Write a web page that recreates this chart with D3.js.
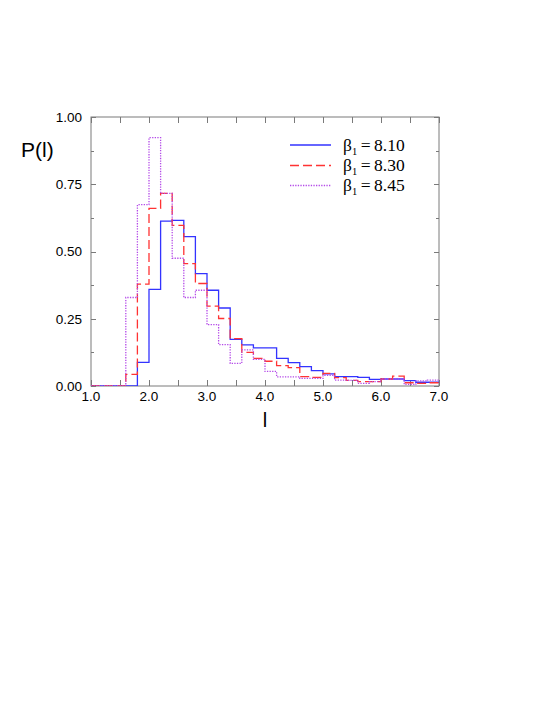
<!DOCTYPE html>
<html>
<head>
<meta charset="utf-8">
<script src="https://cdn.jsdelivr.net/npm/d3@7"></script>
<style>
  html, body { margin: 0; padding: 0; background: #ffffff; }
  svg { display: block; }
</style>
</head>
<body>
<div id="chart"></div>
<script>
// Bin edges start at 1.0, width 0.2, 30 bins up to 7.0
const binStart = 1.0;
const binWidth = 0.2;

const series810 = [0, 0, 0, 0, 0.088, 0.359, 0.613, 0.616, 0.555, 0.418,
  0.356, 0.290, 0.173, 0.153, 0.142, 0.142, 0.103, 0.087, 0.072, 0.057,
  0.045, 0.035, 0.035, 0.032, 0.025, 0.026, 0.026, 0.020, 0.014, 0.014];

const series830 = [0, 0, 0, 0.043, 0.379, 0.660, 0.716, 0.597, 0.455, 0.381,
  0.297, 0.251, 0.176, 0.125, 0.103, 0.092, 0.076, 0.068, 0.035, 0.032,
  0.047, 0.031, 0.021, 0.016, 0.016, 0.026, 0.037, 0.012, 0.010, 0.012];

const series845 = [0, 0, 0, 0.329, 0.674, 0.923, 0.716, 0.475, 0.329, 0.356,
  0.228, 0.154, 0.084, 0.134, 0.099, 0.054, 0.034, 0.034, 0.028, 0.028,
  0.040, 0.022, 0.021, 0.010, 0.016, 0.026, 0.026, 0.006, 0.019, 0.022];

const seriesLabels = ["8.10", "8.30", "8.45"];
const xTickValues = [1, 2, 3, 4, 5, 6, 7];
const xTickLabels = ["1.0", "2.0", "3.0", "4.0", "5.0", "6.0", "7.0"];
const yTickValues = [0, 0.25, 0.5, 0.75, 1.0];
const yTickLabels = ["0.00", "0.25", "0.50", "0.75", "1.00"];

const W = 545, H = 705;
const plot = { left: 91, right: 439, top: 117, bottom: 386 };

const svg = d3.select("#chart").append("svg")
  .attr("width", W).attr("height", H);

const x = d3.scaleLinear().domain([1, 7]).range([plot.left, plot.right]);
const y = d3.scaleLinear().domain([0, 1]).range([plot.bottom, plot.top]);

const axisColor = "#7a7a7a";

// frame
svg.append("rect")
  .attr("x", plot.left).attr("y", plot.top)
  .attr("width", plot.right - plot.left).attr("height", plot.bottom - plot.top)
  .attr("fill", "none").attr("stroke", axisColor).attr("stroke-width", 1);

// ticks
const xMajor = d3.range(1, 7.01, 0.5);
const yAll = d3.range(0, 1.001, 0.125);
const tickG = svg.append("g").attr("stroke", axisColor).attr("stroke-width", 1);
xMajor.forEach(v => {
  const px = Math.round(x(v)) + 0.5;
  const len = 6;
  tickG.append("line").attr("x1", px).attr("x2", px)
    .attr("y1", plot.bottom).attr("y2", plot.bottom - len);
  tickG.append("line").attr("x1", px).attr("x2", px)
    .attr("y1", plot.top).attr("y2", plot.top + len);
});
yAll.forEach((v, i) => {
  const py = Math.round(y(v)) + 0.5;
  const len = (i % 2 === 0) ? 5 : 3;
  tickG.append("line").attr("y1", py).attr("y2", py)
    .attr("x1", plot.left).attr("x2", plot.left + len);
  tickG.append("line").attr("y1", py).attr("y2", py)
    .attr("x1", plot.right).attr("x2", plot.right - len);
});

// tick labels
const labelFont = "'Liberation Sans', Arial, Helvetica, sans-serif";
svg.append("g").selectAll("text").data(xTickValues).join("text")
  .attr("x", d => x(d)).attr("y", 401)
  .attr("text-anchor", "middle")
  .attr("font-family", labelFont).attr("font-size", 13.5).attr("fill", "#000")
  .text((d, i) => xTickLabels[i]);

svg.append("g").selectAll("text").data(yTickValues).join("text")
  .attr("x", 82).attr("y", d => y(d))
  .attr("dy", "0.36em")
  .attr("text-anchor", "end")
  .attr("font-family", labelFont).attr("font-size", 13.5).attr("fill", "#000")
  .text((d, i) => yTickLabels[i]);

// axis titles
svg.append("text").attr("x", 21).attr("y", 157)
  .attr("font-family", labelFont).attr("font-size", 21).attr("fill", "#000")
  .text("P(l)");
svg.append("text").attr("x", 265).attr("y", 427)
  .attr("text-anchor", "middle")
  .attr("font-family", labelFont).attr("font-size", 20).attr("fill", "#000")
  .text("l");

// histograms
const styles = [
  { color: "#3333ff", dash: null, width: 1.3 },
  { color: "#ff3333", dash: "9,4", width: 1.3 },
  { color: "#b44ae8", dash: "1.3,1.3", width: 1.3 }
];
const allSeries = [series810, series830, series845];

const line = d3.line()
  .x(d => x(d[0])).y(d => y(d[1]))
  .curve(d3.curveStepAfter);

svg.append("clipPath").attr("id", "clip")
  .append("rect").attr("x", plot.left).attr("y", plot.top - 2)
  .attr("width", plot.right - plot.left).attr("height", plot.bottom - plot.top + 2);

allSeries.forEach((vals, si) => {
  const pts = vals.map((v, i) => [binStart + i * binWidth, v]);
  pts.push([binStart + vals.length * binWidth, vals[vals.length - 1]]);
  const st = styles[si];
  svg.append("path")
    .attr("d", line(pts))
    .attr("fill", "none")
    .attr("stroke", st.color)
    .attr("stroke-width", st.width)
    .attr("stroke-dasharray", st.dash)
    .attr("clip-path", "url(#clip)");
});

// legend
const legendFont = "'Liberation Serif', 'Times New Roman', serif";
const legY = [145, 165.5, 185.5];
seriesLabels.forEach((lab, i) => {
  const st = styles[i];
  svg.append("line")
    .attr("x1", 290).attr("x2", 331)
    .attr("y1", legY[i]).attr("y2", legY[i])
    .attr("stroke", st.color).attr("stroke-width", st.width)
    .attr("stroke-dasharray", st.dash);
  const t = svg.append("text")
    .attr("x", 343).attr("y", legY[i] + 5.5)
    .attr("font-family", legendFont).attr("font-size", 17.5).attr("fill", "#000");
  t.append("tspan").text("\u03B2");
  t.append("tspan").attr("font-size", 10.5).attr("dy", 4).text("1");
  t.append("tspan").attr("dy", -4).text("\u2009=\u2009" + lab);
});
</script>
</body>
</html>
